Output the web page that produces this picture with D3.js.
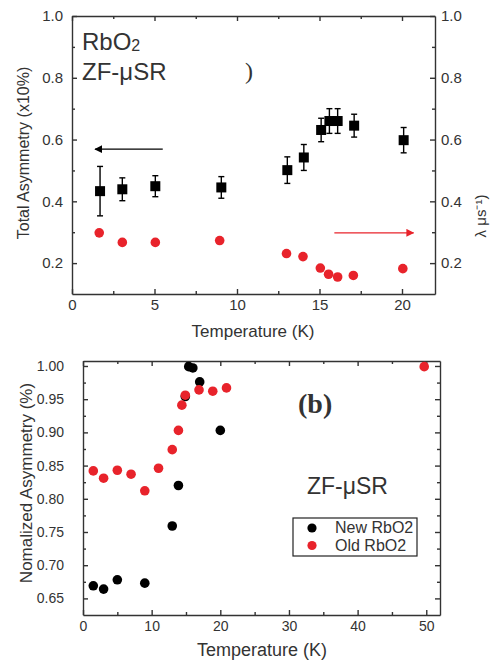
<!DOCTYPE html>
<html lang="en">
<head>
<meta charset="UTF-8">
<title>RbO2 ZF-muSR</title>
<script src="https://d3js.org/d3.v7.min.js"></script>
<style>
body { margin: 0; background: #fff; }
svg text { font-family: "Liberation Sans", Arial, sans-serif; fill: #333; }
.axis path, .axis line { stroke: #333; stroke-width: 1.4; }
</style>
</head>
<body>
<svg width="494" height="662"></svg>
<script>
// ---- top panel data ----
const topTemp   = [1.7, 3.05, 5.05, 9.05, 13.05, 14.05, 15.1, 15.6, 16.1, 17.1, 20.1];
const totalAsym = [0.433, 0.439, 0.449, 0.445, 0.501, 0.542, 0.631, 0.660, 0.660, 0.645, 0.598];
const asymErr   = [0.080, 0.037, 0.034, 0.035, 0.043, 0.042, 0.038, 0.040, 0.040, 0.037, 0.041];
const lambdaTemp = [1.65, 3.05, 5.05, 8.95, 13.0, 14.0, 15.05, 15.55, 16.1, 17.05, 20.05];
const lambdaVals = [0.298, 0.267, 0.267, 0.273, 0.231, 0.221, 0.184, 0.164, 0.155, 0.160, 0.182];
const topXTicks = [0, 5, 10, 15, 20];
const topYTicks = [0.2, 0.4, 0.6, 0.8, 1.0];

// ---- bottom panel data ----
const newTemp = [1.5, 3, 5, 9, 13, 13.9, 14.9, 15.4, 16, 17, 20];
const newAsym = [0.669, 0.664, 0.678, 0.673, 0.759, 0.820, 0.954, 0.999, 0.997, 0.976, 0.903];
const oldTemp = [1.5, 3, 5, 7, 9, 11, 13, 13.9, 14.4, 14.9, 16.9, 18.9, 20.9, 49.7];
const oldAsym = [0.842, 0.831, 0.843, 0.837, 0.812, 0.846, 0.874, 0.903, 0.941, 0.956, 0.964, 0.962, 0.967, 0.999];
const botXTicks = [0, 10, 20, 30, 40, 50];
const botYTicks = [0.65, 0.70, 0.75, 0.80, 0.85, 0.90, 0.95, 1.00];
const legendNames = ['New RbO2', 'Old RbO2'];

const black = '#000';
const red = '#e8232b';

const svg = d3.select('svg');

// arrow heads
const defs = svg.append('defs');
[['headBlack', black], ['headRed', red]].forEach(([id, c]) => {
    defs.append('marker')
        .attr('id', id)
        .attr('viewBox', '0 0 10 10')
        .attr('refX', 9).attr('refY', 5)
        .attr('markerWidth', 8).attr('markerHeight', 8)
        .attr('markerUnits', 'userSpaceOnUse')
        .attr('orient', 'auto')
        .append('path')
        .attr('d', 'M0,0 L10,5 L0,10 Z')
        .attr('fill', c);
});

// boxed panel, inward ticks on all four sides
function drawFrame(x, y, xTicks, yTicks, xMinor, yMinor, opts) {
    const [x0, x1] = x.range();
    const [y0, y1] = y.range();
    const g = svg.append('g');

    const mk = (axis, tr, ticks, fmt, pad) => {
        const a = g.append('g').attr('class', 'axis').attr('transform', tr)
            .call(axis.tickValues(ticks).tickSizeInner(-5).tickSizeOuter(0)
                .tickPadding(pad).tickFormat(fmt || ''));
        a.selectAll('text').style('font-size', opts.tickFont + 'px').attr('fill', '#333');
    };
    const mkMinor = (axis, tr, ticks) => {
        const a = g.append('g').attr('class', 'axis').attr('transform', tr)
            .call(axis.tickValues(ticks).tickSizeInner(-3).tickSizeOuter(0).tickFormat(''));
        a.select('.domain').remove();
    };

    mk(d3.axisBottom(x), `translate(0,${y0})`, xTicks, opts.xFmt, opts.xPad);
    mk(d3.axisTop(x), `translate(0,${y1})`, xTicks, null, 0);
    mk(d3.axisLeft(y), `translate(${x0},0)`, yTicks, opts.yFmt, opts.yPad);
    mk(d3.axisRight(y), `translate(${x1},0)`, yTicks, opts.rightLabels ? opts.yFmt : null, 6);
    mkMinor(d3.axisBottom(x), `translate(0,${y0})`, xMinor);
    mkMinor(d3.axisTop(x), `translate(0,${y1})`, xMinor);
    mkMinor(d3.axisLeft(y), `translate(${x0},0)`, yMinor);
    mkMinor(d3.axisRight(y), `translate(${x1},0)`, yMinor);
}

// ================= top panel =================
const xTop = d3.scaleLinear().domain([0, 22]).range([72, 435]);
const yTop = d3.scaleLinear().domain([0.1, 1.0]).range([294, 16]);
const yRight = d3.scaleLinear().domain([0.1, 1.0]).range([294, 16]);

drawFrame(xTop, yTop, topXTicks, topYTicks,
    [2.5, 7.5, 12.5, 17.5], [0.3, 0.5, 0.7, 0.9],
    { tickFont: 15, xPad: 5, yPad: 9, rightLabels: true,
      xFmt: d3.format('d'), yFmt: d3.format('.1f') });

// error bars
const topPts = topTemp.map((t, i) => ({ t, v: totalAsym[i], e: asymErr[i] }));
const eb = svg.append('g').attr('stroke', black).attr('stroke-width', 1.4);
eb.selectAll('line.v').data(topPts).enter().append('line')
    .attr('x1', d => xTop(d.t)).attr('x2', d => xTop(d.t))
    .attr('y1', d => yTop(d.v - d.e)).attr('y2', d => yTop(d.v + d.e));
[1, -1].forEach(s => {
    eb.selectAll('line.c' + s).data(topPts).enter().append('line')
        .attr('x1', d => xTop(d.t) - 3).attr('x2', d => xTop(d.t) + 3)
        .attr('y1', d => yTop(d.v + s * d.e)).attr('y2', d => yTop(d.v + s * d.e));
});
svg.append('g').selectAll('rect').data(topPts).enter().append('rect')
    .attr('x', d => xTop(d.t) - 5).attr('y', d => yTop(d.v) - 5)
    .attr('width', 10).attr('height', 10).attr('fill', black);

svg.append('g').selectAll('circle').data(lambdaTemp).enter().append('circle')
    .attr('cx', d => xTop(d)).attr('cy', (d, i) => yRight(lambdaVals[i]))
    .attr('r', 4.8).attr('fill', red);

// arrows
svg.append('line')
    .attr('x1', xTop(5.5)).attr('x2', xTop(1.4))
    .attr('y1', yTop(0.569)).attr('y2', yTop(0.569))
    .attr('stroke', black).attr('stroke-width', 1.3).attr('marker-end', 'url(#headBlack)');
svg.append('line')
    .attr('x1', xTop(15.9)).attr('x2', xTop(20.7))
    .attr('y1', yRight(0.298)).attr('y2', yRight(0.298))
    .attr('stroke', red).attr('stroke-width', 1.3).attr('marker-end', 'url(#headRed)');

// labels
const t1 = svg.append('text').attr('x', 82).attr('y', 50).style('font-size', '24px').attr('fill', '#222');
t1.append('tspan').text('RbO');
t1.append('tspan').text('2').style('font-size', '16px').attr('dy', 1);
svg.append('text').attr('x', 82).attr('y', 80).style('font-size', '24px').attr('fill', '#222').text('ZF-μSR');
svg.append('text').attr('x', 245).attr('y', 79).style('font-family', '"Liberation Serif", serif')
    .style('font-size', '24px').attr('fill', '#111').text(')');

svg.append('text').attr('x', 253).attr('y', 337).attr('text-anchor', 'middle')
    .style('font-size', '17px').text('Temperature (K)');
svg.append('text').attr('transform', 'translate(29,153) rotate(-90)').attr('text-anchor', 'middle')
    .style('font-size', '16px').text('Total Asymmetry (x10%)');
svg.append('text').attr('transform', 'translate(486,216) rotate(-90)').attr('text-anchor', 'middle')
    .style('font-size', '15px').text('λ μs⁻¹)');

// ================= bottom panel =================
const xBot = d3.scaleLinear().domain([0, 52]).range([83, 440]);
const yBot = d3.scaleLinear().domain([0.625, 1.0075]).range([615, 361]);

drawFrame(xBot, yBot, botXTicks, botYTicks,
    [5, 15, 25, 35, 45], [0.675, 0.725, 0.775, 0.825, 0.875, 0.925, 0.975],
    { tickFont: 14, xPad: 6, yPad: 19, rightLabels: false,
      xFmt: d3.format('d'), yFmt: d3.format('.2f') });

svg.append('g').selectAll('circle').data(newTemp).enter().append('circle')
    .attr('cx', d => xBot(d)).attr('cy', (d, i) => yBot(newAsym[i]))
    .attr('r', 4.8).attr('fill', black);
svg.append('g').selectAll('circle').data(oldTemp).enter().append('circle')
    .attr('cx', d => xBot(d)).attr('cy', (d, i) => yBot(oldAsym[i]))
    .attr('r', 4.8).attr('fill', red);

svg.append('text').attr('x', 298).attr('y', 413).style('font-family', '"Liberation Serif", serif')
    .style('font-size', '28px').style('font-weight', 'bold').attr('fill', '#222').text('(b)');
svg.append('text').attr('x', 307).attr('y', 494).style('font-size', '23px').attr('fill', '#222').text('ZF-μSR');

// legend
const lg = svg.append('g');
lg.append('rect').attr('x', 293).attr('y', 518).attr('width', 124).attr('height', 38)
    .attr('fill', 'none').attr('stroke', '#222').attr('stroke-width', 1.2);
legendNames.forEach((n, i) => {
    lg.append('circle').attr('cx', 312).attr('cy', 528 + i * 17.5).attr('r', 4.6).attr('fill', i ? red : black);
    lg.append('text').attr('x', 335).attr('y', 533 + i * 17.5).style('font-size', '16px').text(n);
});

svg.append('text').attr('x', 262).attr('y', 656).attr('text-anchor', 'middle')
    .style('font-size', '18px').text('Temperature (K)');
svg.append('text').attr('transform', 'translate(32,483) rotate(-90)').attr('text-anchor', 'middle')
    .style('font-size', '17px').text('Nomalized Asymmetry (%)');
</script>
</body>
</html>
